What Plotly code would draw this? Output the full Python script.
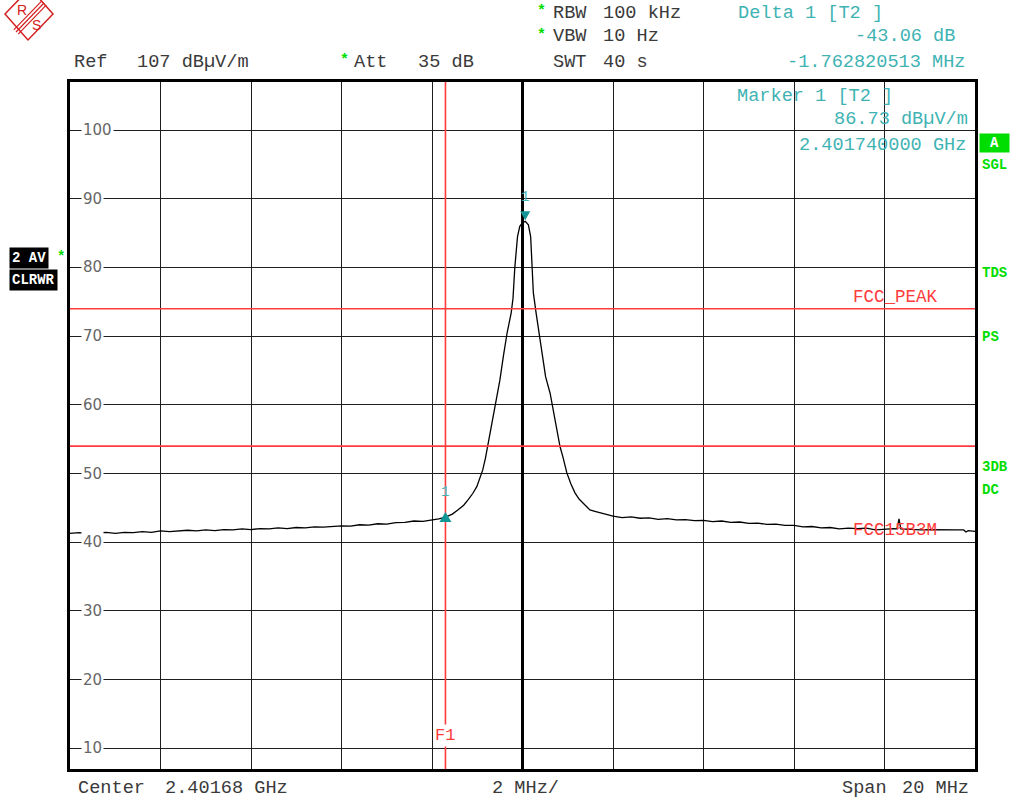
import plotly.graph_objects as go

# ---------------- data ----------------
center_ghz = 2.40168
span_mhz = 20
div_mhz = 2
ref_level = 107
bottom_level = 7

# frequency offset from centre (MHz) and measured level (dBµV/m)
freq_offset_mhz = [
    -10.0, -9.8, -9.6, -9.4, -9.2, -9.0, -8.8, -8.6, -8.4, -8.2, -8.0, -7.8,
    -7.6, -7.4, -7.2, -7.0, -6.8, -6.6, -6.4, -6.2, -6.0, -5.8, -5.6, -5.4,
    -5.2, -5.0, -4.8, -4.6, -4.4, -4.2, -4.0, -3.8, -3.6, -3.4, -3.2, -3.0,
    -2.8, -2.6, -2.4, -2.2, -2.0, -1.85, -1.7,
    -1.55, -1.43, -1.30, -1.20, -1.10, -1.01, -0.93, -0.88, -0.82, -0.77,
    -0.70, -0.62, -0.57, -0.50, -0.42, -0.34, -0.25, -0.21, -0.17, -0.11,
    -0.06, 0.00, 0.06, 0.13, 0.18, 0.21, 0.24, 0.30, 0.37, 0.44, 0.51, 0.61,
    0.72, 0.83, 0.89, 0.98, 1.07, 1.16, 1.25, 1.34, 1.42, 1.49, 1.60, 1.71,
    1.85,
    2.0, 2.2, 2.4, 2.6, 2.8, 3.0, 3.2, 3.4, 3.6, 3.8, 4.0, 4.2, 4.4, 4.6,
    4.8, 5.0, 5.2, 5.4, 5.6, 5.8, 6.0, 6.2, 6.4, 6.6, 6.8, 7.0, 7.2, 7.4,
    7.6, 7.8, 8.0, 8.2, 8.28, 8.32, 8.36, 8.6, 8.8, 9.0, 9.2, 9.4, 9.6,
    9.75, 9.8, 9.85, 10.0,
]
level_dbuv = [
    41.30, 41.40, 41.25, 41.35, 41.45, 41.30, 41.45, 41.40, 41.55, 41.45, 41.65, 41.55,
    41.60, 41.75, 41.65, 41.80, 41.70, 41.85, 41.80, 41.95, 41.85, 42.00, 41.95, 42.10,
    42.00, 42.15, 42.10, 42.25, 42.20, 42.35, 42.40, 42.35, 42.55, 42.50, 42.70, 42.65,
    42.85, 42.90, 43.10, 43.05, 43.25, 43.40, 43.67,
    44.1, 44.7, 45.4, 46.2, 47.1, 48.1, 49.5, 50.5, 52.2, 53.9,
    56.3, 59.2, 60.7, 63.6, 67.2, 70.5, 73.4, 75.5, 80.0, 84.5,
    86.0, 86.5, 86.73, 86.2, 84.5, 80.0, 76.3, 73.4, 70.5, 67.0, 64.1, 61.7,
    57.5, 53.9, 52.5, 50.1, 48.5, 47.2, 46.3, 45.7, 45.2, 44.7, 44.5, 44.3,
    44.0,
    43.80, 43.60, 43.70, 43.50, 43.55, 43.35, 43.45, 43.25, 43.30, 43.15, 43.20, 43.00,
    43.10, 42.90, 42.95, 42.75, 42.80, 42.60, 42.65, 42.45, 42.45, 42.25, 42.30, 42.10,
    42.15, 41.95, 42.05, 42.00, 42.05, 41.80, 41.95, 42.00, 41.95, 43.40, 41.95, 41.85,
    41.80, 41.85, 41.80, 41.75, 41.80, 41.80, 41.50, 41.70, 41.60,
]

ytick_vals = [10, 20, 30, 40, 50, 60, 70, 80, 90, 100]
ytick_labels = [str(v) for v in ytick_vals]
xtick_vals = [-10, -8, -6, -4, -2, 0, 2, 4, 6, 8, 10]

limit_names = ["FCC_PEAK", "FCC15B3M"]
limit_values = [74, 54]

marker1_freq = 0.06          # MHz offset (2.401740000 GHz)
marker1_level = 86.73
delta_db = -43.06
delta_mhz = -1.762820513
delta_freq = marker1_freq + delta_mhz
delta_level = marker1_level + delta_db
f1_freq = delta_freq

# ---------------- styling helpers ----------------
W, H = 1013, 799
L, R, T, B = 70, 38, 82, 30
PW, PH = W - L - R, H - T - B


def px(x):
    return (x - L) / PW


def py(y):
    return (H - B - y) / PH


MONO = "Liberation Mono, Courier New, DejaVu Sans Mono, monospace"
GREY = "#3a3a3a"
TEAL = "#3fb3b3"
TEAL_DARK = "#119595"
RED = "#ff3b3b"
GREEN = "#00dd00"
HS = 18.6  # header font size

annotations = []


def txt(text, x, y, color=GREY, size=HS, anchor="left", family=MONO,
        bold=False, bg=None, pad=1, **kw):
    if bold:
        text = "<b>" + text + "</b>"
    a = dict(text=text, x=px(x), y=py(y), xref="paper", yref="paper",
             xanchor=anchor, yanchor="middle", showarrow=False,
             font=dict(family=family, size=size, color=color), borderpad=pad)
    if bg:
        a["bgcolor"] = bg
    a.update(kw)
    annotations.append(a)


fig = go.Figure()
fig.add_trace(go.Scatter(x=freq_offset_mhz, y=level_dbuv, mode="lines",
                         line=dict(color="black", width=1.3),
                         hoverinfo="skip"))

shapes = []
# limit lines
for v in limit_values:
    shapes.append(dict(type="line", xref="x", yref="y", x0=-span_mhz / 2,
                       x1=span_mhz / 2, y0=v, y1=v,
                       line=dict(color=RED, width=1.6)))
# F1 frequency line
shapes.append(dict(type="line", xref="x", yref="paper", x0=f1_freq, x1=f1_freq,
                   y0=0, y1=1, line=dict(color=RED, width=1.6)))
# markers (triangles)
shapes.append(dict(type="path", xref="x", yref="y", xsizemode="pixel",
                   ysizemode="pixel", xanchor=marker1_freq, yanchor=marker1_level,
                   path="M -5 10 L 5 10 L 0 1 Z", fillcolor=TEAL_DARK,
                   line=dict(width=0)))
shapes.append(dict(type="path", xref="x", yref="y", xsizemode="pixel",
                   ysizemode="pixel", xanchor=delta_freq, yanchor=delta_level,
                   path="M -6 -5 L 6 -5 L 0 5 Z", fillcolor=TEAL_DARK,
                   line=dict(width=0)))

# R&S logo
lc = "#d42020"
shapes.append(dict(type="path", xref="paper", yref="paper",
                   path=f"M {px(5)} {py(14)} L {px(28)} {py(40)} L {px(53)} {py(14)} "
                        f"L {px(30)} {py(-12)} Z",
                   line=dict(color=lc, width=1.5)))
for d in (-2.2, 0, 2.2):
    shapes.append(dict(type="line", xref="paper", yref="paper",
                       x0=px(44 + d), y0=py(3 + d), x1=px(16 + d), y1=py(32 + d),
                       line=dict(color=lc, width=1.2)))
txt("R", 22, 10, color=lc, size=14, anchor="center", family="Liberation Sans")
txt("S", 36, 25, color=lc, size=14, anchor="center", family="Liberation Sans")

# header
txt("*", 541, 11, color=GREEN, size=15, anchor="center", bold=True)
txt("RBW", 551, 13)
txt("100 kHz", 601, 13)
txt("Delta 1 [T2 ]", 736, 13, color=TEAL)
txt("*", 541, 35, color=GREEN, size=15, anchor="center", bold=True)
txt("VBW", 551, 37)
txt("10 Hz", 601, 37)
txt(f"{delta_db:.2f} dB", 957, 37, color=TEAL, anchor="right")
txt("Ref", 72, 62)
txt(f"{ref_level} dBµV/m", 135, 62)
txt("*", 344, 60, color=GREEN, size=15, anchor="center", bold=True)
txt("Att", 352, 62)
txt("35 dB", 416, 62)
txt("SWT", 551, 62)
txt("40 s", 601, 62)
txt(f"{delta_mhz:.9f} MHz", 968, 62, color=TEAL, anchor="right")
txt("Marker 1 [T2 ]", 735, 96, color=TEAL)
txt(f"{marker1_level:.2f} dBµV/m", 970, 120, color=TEAL, anchor="right")
txt(f"{center_ghz + marker1_freq / 1000:.9f} GHz", 968, 145, color=TEAL,
    anchor="right")

# footer
txt("Center", 76, 788)
txt(f"{center_ghz} GHz", 163, 788)
txt(f"{div_mhz} MHz/", 490, 788)
txt("Span", 840, 788)
txt(f"{span_mhz} MHz", 971, 788, anchor="right")

# left side labels
txt("2 AV", 9, 258, color="white", size=14, bold=True, bg="black", pad=2)
txt("*", 61, 257, color=GREEN, size=14, anchor="center", bold=True)
txt("CLRWR", 9, 280, color="white", size=14, bold=True, bg="black", pad=2)

# right side labels
annotations.append(dict(text="<b>A</b>", x=px(979), y=py(143), xref="paper",
                        yref="paper", xanchor="left", yanchor="middle",
                        showarrow=False, width=27, height=16, bgcolor=GREEN,
                        borderpad=1, align="center",
                        font=dict(family=MONO, size=14, color="white")))
for t_, y_ in (("SGL", 165), ("TDS", 273), ("PS", 337), ("3DB", 467), ("DC", 490)):
    txt(t_, 980, y_, color=GREEN, size=14, bold=True)

# y tick labels inside the plot
for v, lab in zip(ytick_vals, ytick_labels):
    annotations.append(dict(text=lab, x=px(81), y=v, xref="paper", yref="y",
                            xanchor="left", yanchor="middle", showarrow=False,
                            bgcolor="white", borderpad=1,
                            font=dict(family="DejaVu Sans", size=15,
                                      color="#666666")))

# limit line names
txt(limit_names[0], 851, 297, color=RED, size=17.5)
txt(limit_names[1], 851, 530, color=RED, size=17.5)

# F1 label
annotations.append(dict(text="F1", x=f1_freq, y=py(735), xref="x", yref="paper",
                        xanchor="center", yanchor="middle", showarrow=False,
                        bgcolor="white", borderpad=1,
                        font=dict(family=MONO, size=17, color=RED)))

# marker number labels
annotations.append(dict(text="1", x=marker1_freq, y=marker1_level, xref="x",
                        yref="y", yshift=24, showarrow=False,
                        font=dict(family=MONO, size=14, color=TEAL)))
annotations.append(dict(text="1", x=delta_freq, y=delta_level, xref="x",
                        yref="y", yshift=25, showarrow=False,
                        font=dict(family=MONO, size=14, color=TEAL)))

fig.update_layout(
    width=W, height=H,
    margin=dict(l=L, r=R, t=T, b=B),
    paper_bgcolor="white", plot_bgcolor="white",
    showlegend=False,
    shapes=shapes,
    annotations=annotations,
    xaxis=dict(range=[-span_mhz / 2, span_mhz / 2], tickvals=xtick_vals,
               showgrid=True, gridcolor="#1e1e1e", gridwidth=1.2,
               zeroline=True, zerolinecolor="black", zerolinewidth=3,
               showline=True, mirror=True, linecolor="black", linewidth=3,
               showticklabels=False, ticks=""),
    yaxis=dict(range=[bottom_level, ref_level], tickvals=ytick_vals,
               showgrid=True, gridcolor="#1e1e1e", gridwidth=1.2,
               zeroline=False,
               showline=True, mirror=True, linecolor="black", linewidth=3,
               showticklabels=False, ticks=""),
)

fig.write_html("out.html")
